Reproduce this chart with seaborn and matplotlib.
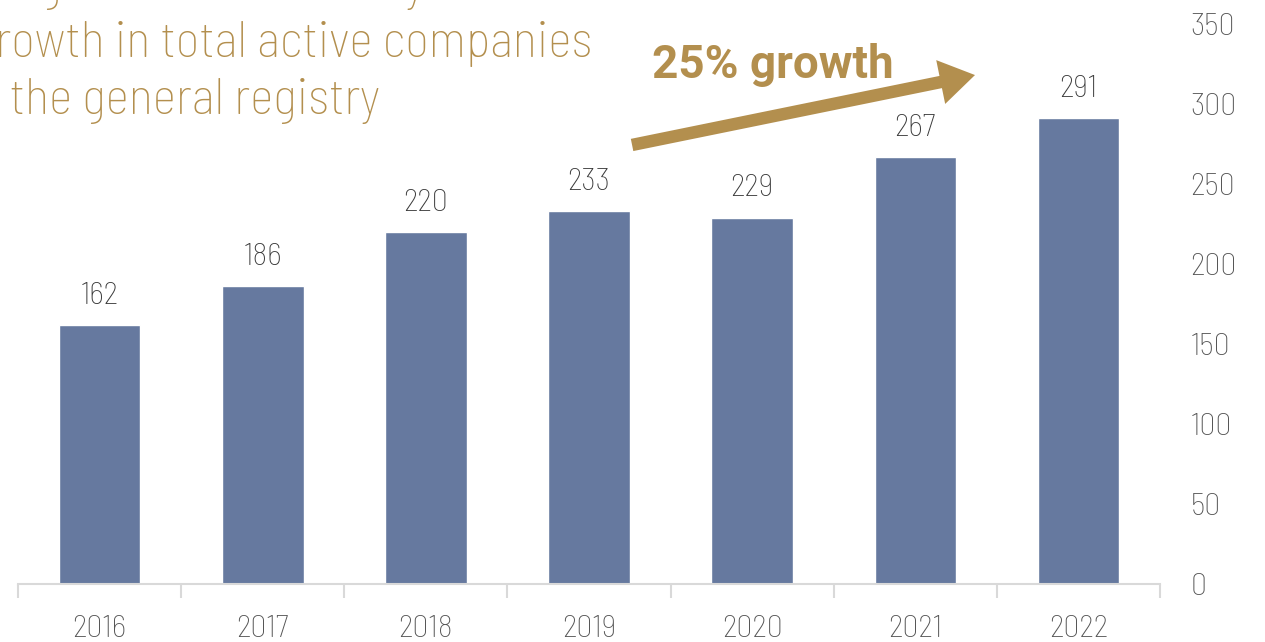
import matplotlib
matplotlib.use("Agg")
import matplotlib.pyplot as plt
from matplotlib import font_manager as fm
import seaborn as sns
import pandas as pd

years = ["2016", "2017", "2018", "2019", "2020", "2021", "2022"]
companies = [162, 186, 220, 233, 229, 267, 291]
y_ticks = [0, 50, 100, 150, 200, 250, 300, 350]
title_lines = ["A significant and steady", "growth in total active companies", "in the general registry"]
arrow_label = "25% growth"

BAR = "#66799F"
GOLD = "#B38F4E"
GRAY = "#555555"
DARK = "#3A3A3A"
AXIS = "#D9D9D9"

sns.set_theme(style="white")
_names = {f.name for f in fm.fontManager.ttflist}


def pick(cands):
    for c in cands:
        if c in _names:
            return c
    return "DejaVu Sans"


LIGHT = pick(["Barlow Semi Condensed", "Roboto Condensed", "Archivo Narrow", "PT Sans Narrow", "Open Sans"])
BOLD = pick(["Roboto", "Open Sans"])
plt.rcParams["font.family"] = [LIGHT, "DejaVu Sans"]
plt.rcParams["font.weight"] = "light"

W, H = 1265, 642
df = pd.DataFrame({"year": years, "companies": companies})

fig = plt.figure(figsize=(W / 100, H / 100), dpi=100)
ax = fig.add_axes([18 / W, 58 / H, (1160 - 18) / W, (584 - 24) / H])

sns.barplot(data=df, x="year", y="companies", color=BAR, saturation=1, width=0.5, ax=ax)

ax.set_xlim(-0.5, len(years) - 0.5)
ax.set_ylim(0, 350)
ax.set_xlabel("")
ax.set_ylabel("")

for c in ax.containers:
    ax.bar_label(c, labels=[str(v) for v in companies], padding=11, fontsize=23,
                 color=DARK, fontweight="light")

# y axis on the right
ax.yaxis.tick_right()
ax.set_yticks(y_ticks)
ax.set_yticklabels([str(v) for v in y_ticks])
ax.tick_params(axis="y", which="both", left=False, right=False, length=0, pad=22,
               labelsize=23, labelcolor=GRAY)

# x axis: tick marks at category boundaries, labels at centres
ax.set_xticks(range(len(years)))
ax.set_xticklabels(years)
ax.set_xticks([i - 0.5 for i in range(len(years) + 1)], minor=True)
ax.tick_params(axis="x", which="major", bottom=False, length=0, pad=22, labelsize=23,
               labelcolor=GRAY)
ax.tick_params(axis="x", which="minor", bottom=True, length=10, width=1.5, color=AXIS,
               direction="out")

for s in ["top", "left", "right"]:
    ax.spines[s].set_visible(False)
ax.spines["bottom"].set_color(AXIS)
ax.spines["bottom"].set_linewidth(1.5)

# title lines, partly outside the canvas
title_x = [-28, -28, -36]
for i, line in enumerate(title_lines):
    fig.text(title_x[i] / W, 1 - (0 + 57 * i) / H, line, ha="left", va="baseline",
             fontsize=36.5, color=GOLD, fontweight="light")

# growth arrow
ax.annotate("", xy=(5.366, 318.1), xytext=(3.264, 274.4),
            xycoords="data", textcoords="data", annotation_clip=False,
            arrowprops=dict(arrowstyle="simple,head_length=0.9,head_width=1.15,tail_width=0.32",
                            mutation_scale=28, color=GOLD, lw=0, shrinkA=0, shrinkB=0))
fig.text(652 / W, 1 - 78 / H, arrow_label, ha="left", va="baseline", fontsize=33,
         fontweight="bold", color=GOLD, family=[BOLD, "DejaVu Sans"])

fig.savefig("out.png", dpi=100)
